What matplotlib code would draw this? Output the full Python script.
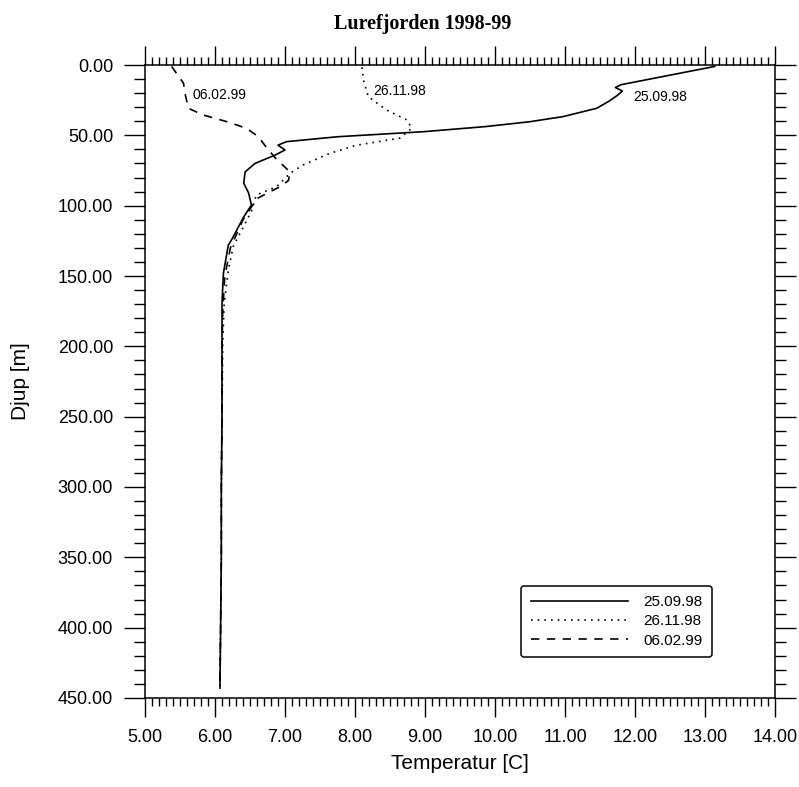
import numpy as np
import matplotlib
matplotlib.use("Agg")
import matplotlib.pyplot as plt
from matplotlib.ticker import MultipleLocator, FormatStrFormatter

# ── Data: temperature profiles, Lurefjorden ───────────────────────────────────
depth_0925 = [1, 14, 16, 18.5, 21.5, 26, 30.8, 36.7, 40.3, 43.8, 47.4, 51, 54.5,
              57, 60.4, 64, 70, 76, 84, 91, 99.5, 108, 124, 128, 148, 169, 193,
              250, 300, 350, 400, 443]
temp_0925 = [13.14, 11.80, 11.72, 11.82, 11.75, 11.62, 11.45, 10.97, 10.50, 9.86,
             8.98, 7.75, 7.02, 6.90, 7.00, 6.86, 6.57, 6.43, 6.41, 6.48, 6.52,
             6.41, 6.24, 6.19, 6.12, 6.10, 6.10, 6.10, 6.09, 6.09, 6.08, 6.07]

depth_1126 = [1.6, 10.7, 22.5, 32, 39, 45, 52, 57, 62.8, 71, 77, 86.5, 92.4,
              104, 129, 146, 170, 200, 250, 300, 350, 400, 443]
temp_1126 = [8.10, 8.12, 8.19, 8.45, 8.74, 8.81, 8.64, 8.02, 7.64, 7.26, 7.07,
             6.88, 6.59, 6.52, 6.26, 6.19, 6.13, 6.11, 6.10, 6.09, 6.09, 6.08, 6.07]

depth_0602 = [1, 13, 20, 30.8, 35.5, 40.3, 45, 51, 57, 66, 76, 82, 86, 91, 95,
              101, 110, 130, 150, 175, 200, 250, 300, 350, 400, 443]
temp_0602 = [5.38, 5.55, 5.57, 5.62, 5.83, 6.17, 6.45, 6.62, 6.71, 6.86, 7.07,
             7.05, 6.95, 6.75, 6.60, 6.52, 6.40, 6.22, 6.14, 6.11, 6.10, 6.10,
             6.09, 6.09, 6.08, 6.07]

labels = ['25.09.98', '26.11.98', '06.02.99']
# curve label anchors (temperature, depth)
label_pos = [(12.36, 23.1), (8.64, 18.4), (6.07, 21.3)]

# ── Plot ───────────────────────────────────────────────────────────────────────
plt.rcParams['font.family'] = ['Liberation Sans', 'DejaVu Sans']

fig = plt.figure(figsize=(7.99, 7.87), dpi=100)
ax = fig.add_axes([0.1815, 0.1131, 0.7885, 0.8043])

ax.plot(temp_0925, depth_0925, color='black', lw=1.2, ls='-', label=labels[0])
ax.plot(temp_1126, depth_1126, color='black', lw=1.2, dashes=(1, 3), label=labels[1])
ax.plot(temp_0602, depth_0602, color='black', lw=1.2, dashes=(5, 4.5), label=labels[2])

for txt, (t, d) in zip(labels, label_pos):
    ax.text(t, d, txt, fontsize=10, ha='center', va='center')

ax.set_xlim(5, 14)
ax.set_ylim(450, 0)
ax.xaxis.set_major_locator(MultipleLocator(1))
ax.xaxis.set_minor_locator(MultipleLocator(0.1))
ax.yaxis.set_major_locator(MultipleLocator(50))
ax.yaxis.set_minor_locator(MultipleLocator(10))
ax.xaxis.set_major_formatter(FormatStrFormatter('%.2f'))
ax.yaxis.set_major_formatter(FormatStrFormatter('%.2f'))

ax.tick_params(which='both', direction='out', top=True, right=True,
               labeltop=False, labelright=False, labelsize=13, width=1)
ax.tick_params(axis='x', which='major', length=14, pad=8)
ax.tick_params(axis='x', which='minor', length=6)
ax.tick_params(axis='y', which='major', length=15, pad=8)
ax.tick_params(axis='y', which='minor', length=8)
for s in ax.spines.values():
    s.set_linewidth(1.1)

ax.set_xlabel('Temperatur [C]', fontsize=15, labelpad=6)
ax.set_ylabel('Djup [m]', fontsize=15, labelpad=20)

fig.text(0.529, 0.97, 'Lurefjorden 1998-99', fontsize=14.5, fontweight='bold',
         family='Liberation Serif', ha='center', va='center')

leg = ax.legend(loc='lower right', bbox_to_anchor=(0.9, 0.065), borderaxespad=0,
                fontsize=11, frameon=True, fancybox=True, handlelength=6.4,
                handletextpad=1.0, borderpad=0.6, labelspacing=0.35)
leg.get_frame().set_edgecolor('black')
leg.get_frame().set_linewidth(1.1)
leg.get_frame().set_alpha(1)

plt.savefig('out.png', dpi=100)
